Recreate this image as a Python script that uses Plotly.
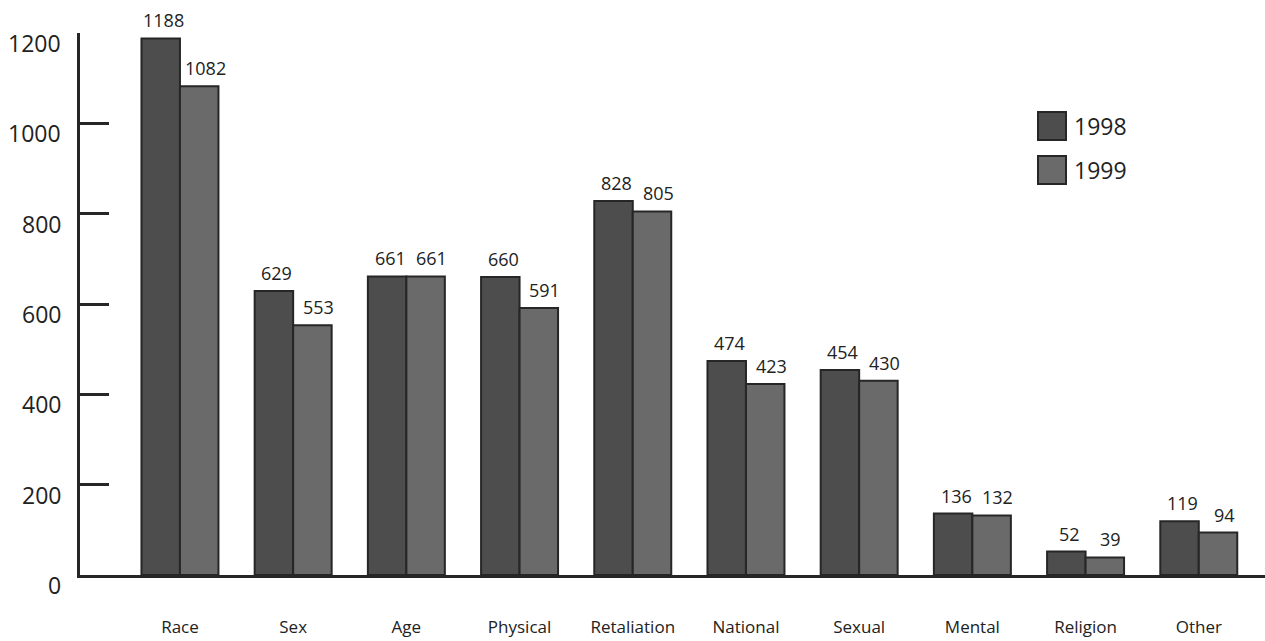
import numpy as np
import plotly.graph_objects as go

# Complaint categories and yearly counts
categories = ["Race", "Sex", "Age", "Physical", "Retaliation",
              "National", "Sexual", "Mental", "Religion", "Other"]
series_names = ["1998", "1999"]
values_1998 = [1188, 629, 661, 660, 828, 474, 454, 136, 52, 119]
values_1999 = [1082, 553, 661, 591, 805, 423, 430, 132, 39, 94]
y_tick_values = [0, 200, 400, 600, 800, 1000, 1200]

# Canvas and plot-area geometry (pixels)
W, H = 1265, 641
ML, MR, MT, MB = 80, 0, 33, 66
PW, PH = W - ML - MR, H - MT - MB

FONT = "Open Sans"
INK = "#262626"
COLORS = ["#4d4d4d", "#6a6a6a"]
BARGAP = 0.32
HALF = (1 - BARGAP) / 4  # centre offset of each bar inside a group


def px_to_paper(px, py):
    return (px - ML) / PW, (H - MB - py) / PH


idx = np.arange(len(categories))
fig = go.Figure()
for name, vals, col in zip(series_names, [values_1998, values_1999], COLORS):
    fig.add_trace(go.Bar(
        x=idx, y=vals, name=name,
        marker=dict(color=col, line=dict(color=INK, width=2)),
        showlegend=False,
    ))

annotations = []
# value labels above each bar
for k, vals in enumerate([values_1998, values_1999]):
    off = -HALF if k == 0 else HALF
    for i, v in enumerate(vals):
        annotations.append(dict(
            x=i + off, y=v, xref="x", yref="y", text=str(v),
            showarrow=False, yanchor="middle", xanchor="center",
            yshift=18, xshift=3 if k == 0 else 6,
            font=dict(family=FONT, size=18, color="#222"),
        ))

# y tick labels, set a little below their tick marks
for v in y_tick_values:
    annotations.append(dict(
        x=0, y=v, xref="paper", yref="y", text=str(v),
        showarrow=False, xanchor="right", yanchor="middle",
        xshift=-17, yshift=-10,
        font=dict(family=FONT, size=23, color="#222"),
    ))

# legend drawn as large swatches with labels
shapes = []
swatch_px = [(1038, 112), (1038, 156)]
for (sx, sy), name, col in zip(swatch_px, series_names, COLORS):
    x0, y1 = px_to_paper(sx, sy)
    x1, y0 = px_to_paper(sx + 28, sy + 28)
    shapes.append(dict(type="rect", xref="paper", yref="paper",
                       x0=x0, x1=x1, y0=y0, y1=y1,
                       fillcolor=col, line=dict(color=INK, width=2)))
    tx, ty = px_to_paper(sx + 34, sy + 14)
    annotations.append(dict(
        x=tx, y=ty, xref="paper", yref="paper", text=name,
        showarrow=False, xanchor="left", yanchor="middle",
        font=dict(family=FONT, size=23, color="#222"),
    ))

fig.update_layout(
    width=W, height=H,
    margin=dict(l=ML, r=MR, t=MT, b=MB, pad=0),
    paper_bgcolor="white", plot_bgcolor="white",
    barmode="group", bargap=BARGAP, bargroupgap=0,
    showlegend=False,
    font=dict(family=FONT, color="#222"),
    annotations=annotations,
    shapes=shapes,
    xaxis=dict(
        range=[-0.883, 9.585],
        tickmode="array", tickvals=idx, ticktext=categories,
        tickfont=dict(family=FONT, size=17, color="#222"),
        ticks="", ticklabelstandoff=35,
        showline=True, linecolor=INK, linewidth=2.5,
        showgrid=False, zeroline=False,
    ),
    yaxis=dict(
        range=[0, 1200],
        tickmode="array", tickvals=y_tick_values,
        showticklabels=False,
        ticks="inside", ticklen=29, tickwidth=2.5, tickcolor=INK,
        showline=True, linecolor=INK, linewidth=3,
        showgrid=False, zeroline=False,
    ),
)

fig.write_html("out.html")
